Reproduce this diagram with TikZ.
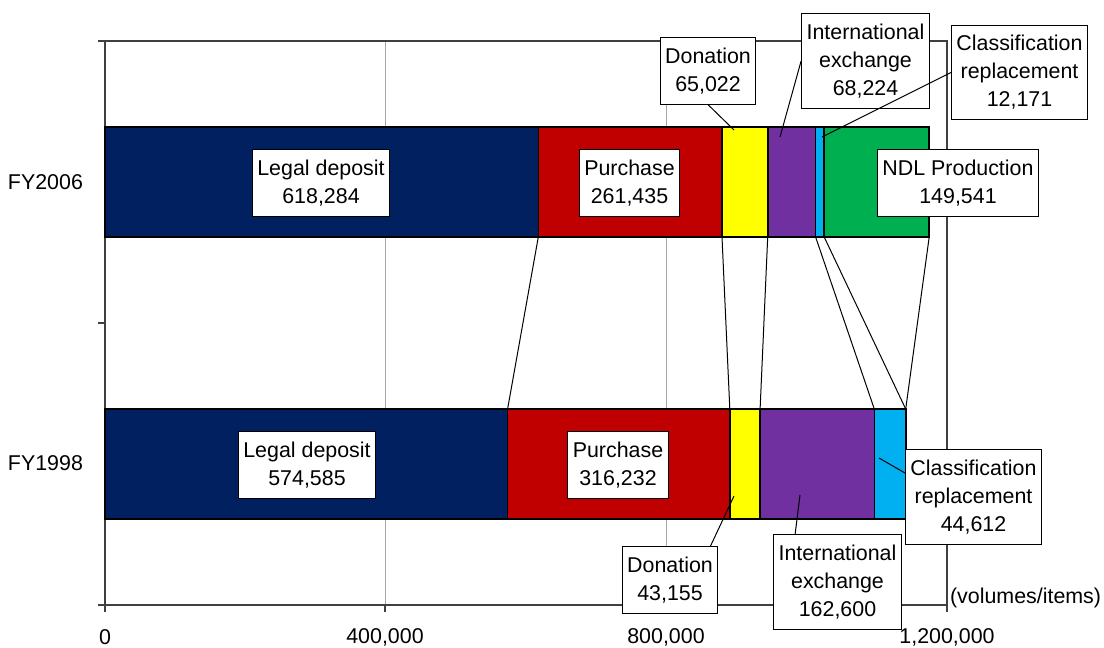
\documentclass[tikz,border=0pt]{standalone}
\usepackage{fontspec}
\setmainfont{Liberation Sans}
\usetikzlibrary{positioning}

\definecolor{legalcol}{HTML}{002060}
\definecolor{buycol}{HTML}{C00000}
\definecolor{giftcol}{HTML}{FFFF00}
\definecolor{xchgcol}{HTML}{7030A0}
\definecolor{reclcol}{HTML}{00B0F0}
\definecolor{ndlcol}{HTML}{00B050}
\newcommand\lbl{\fontsize{10.7}{14}\selectfont}

\tikzset{
  seg/.style={draw=black, line width=0.8pt},
  callout/.style={draw=black, fill=white, line width=0.5pt, align=center, inner xsep=2.5pt, inner ysep=5pt, font=\lbl},
  leader/.style={draw=black, line width=0.5pt},
  serline/.style={draw=black, line width=0.5pt},
  grid line/.style={draw=gray!70, line width=0.5pt},
  axis line/.style={draw=black!75, line width=0.7pt}
}

\begin{document}
\begin{tikzpicture}[x=0.5pt, y=-0.5pt, font=\lbl]
    \useasboundingbox (0,0) rectangle (1104,648);

    % plot area and axes
    \draw[grid line] (385,41) -- (385,605);
    \draw[grid line] (666,41) -- (666,605);
    \draw[axis line] (105,41) rectangle (947,605);
    \foreach \y in {41,323,605} \draw[axis line] (98,\y) -- (105,\y);
    \foreach \x in {105,385,666,947} \draw[axis line] (\x,605) -- (\x,612);

    \node (t0) at (105,637) {0};
    \node (t1) at (385,637) {400,000};
    \node (t2) at (666,637) {800,000};
    \node (t3) at (947,637) {1,200,000};
    \node[anchor=east] (y06) at (90,182) {FY2006};
    \node[anchor=east] (y98) at (90,463) {FY1998};
    \node[anchor=west] (unit) at (943,598) {(volumes/items)};

    % FY2006 bar
    \foreach \l/\r/\c/\n in {105/538.3/legalcol/ld06, 538.3/722.0/buycol/pu06,
        722.0/767.7/giftcol/do06b, 767.7/815.6/xchgcol/ie06b,
        815.6/824.2/reclcol/cr06b, 824.2/929.2/ndlcol/nd06b}{
      \draw[seg, fill=\c] (\l,127) rectangle (\r,237);
      \coordinate (\n e) at (\r,237);
    }

    % FY1998 bar
    \foreach \l/\r/\c/\n in {105/507.6/legalcol/ld98, 507.6/729.8/buycol/pu98,
        729.8/760.1/giftcol/do98b, 760.1/874.3/xchgcol/ie98b,
        874.3/905.7/reclcol/cr98b}{
      \draw[seg, fill=\c] (\l,409) rectangle (\r,519);
      \coordinate (\n e) at (\r,409);
    }
    \coordinate (nd98be) at (905.7,409);

    % series lines
    \draw[serline] (ld06e) -- (ld98e);
    \draw[serline] (pu06e) -- (pu98e);
    \draw[serline] (do06be) -- (do98be);
    \draw[serline] (ie06be) -- (ie98be);
    \draw[serline] (cr06be) -- (cr98be);
    \draw[serline] (nd06be) -- (nd98be);

    % leader targets
    \coordinate (do06t) at (734,130);
    \coordinate (ie06t) at (780,137);
    \coordinate (cr06t) at (822,137);
    \coordinate (do98t) at (734,496);
    \coordinate (ie98t) at (800,495);
    \coordinate (cr98t) at (879,458);

    % callouts
    \node[callout] (ld06) at (321,183) {Legal deposit\\618,284};
    \node[callout] (pu06) at (629.5,183) {Purchase\\261,435};
    \node[callout] (do06) at (708,71) {Donation\\65,022};
    \node[callout] (ie06) at (865.5,61) {International\\exchange\\68,224};
    \node[callout] (cr06) at (1019.5,72.5) {Classification\\replacement\\12,171};
    \node[callout] (nd06) at (958,183) {NDL Production\\149,541};

    \node[callout] (ld98) at (307,465) {Legal deposit\\574,585};
    \node[callout] (pu98) at (618,465) {Purchase\\316,232};
    \node[callout] (do98) at (670,580) {Donation\\43,155};
    \node[callout] (ie98) at (837.5,582) {International\\exchange\\162,600};
    \node[callout] (cr98) at (973.5,497) {Classification\\replacement\\44,612};

    % leaders
    \draw[leader] (do06.south) -- (do06t);
    \draw[leader] (ie06.west) -- (ie06t);
    \draw[leader] (cr06.west) -- (cr06t);
    \draw[leader] ([xshift=-4pt]do98.north east) -- (do98t);
    \draw[leader] ([xshift=11pt]ie98.north west) -- (ie98t);
    \draw[leader] ([yshift=12pt]cr98.west) -- (cr98t);
\end{tikzpicture}
\end{document}
